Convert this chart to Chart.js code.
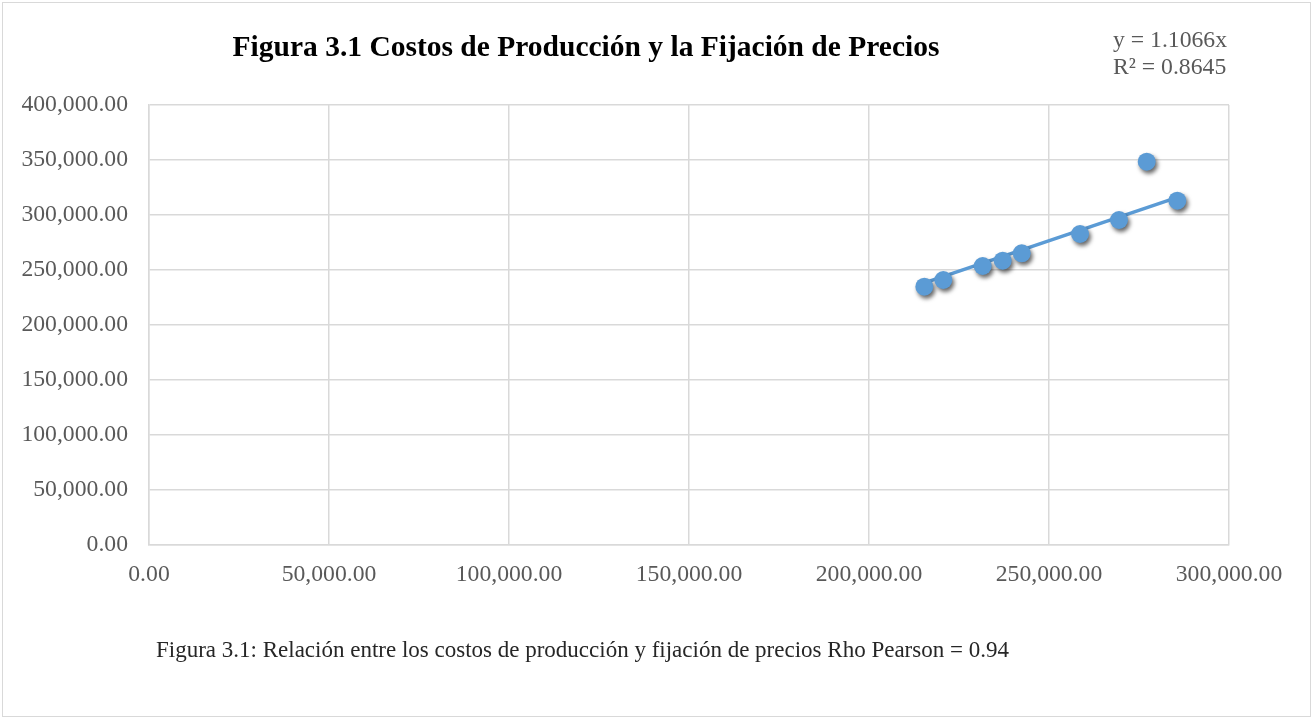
<!DOCTYPE html>
<html>
<head>
<meta charset="utf-8">
<script src="https://cdn.jsdelivr.net/npm/chart.js@4"></script>
<style>
html,body{margin:0;padding:0;background:#fff;}
#wrap{position:relative;width:1313px;height:719px;}
canvas{display:block;}
</style>
</head>
<body>
<div id="wrap"><canvas id="c" width="1313" height="719"></canvas></div>
<script>
// Data
const costosProduccion = [215370, 220640, 231580, 237140, 242420, 258610, 269440, 277140, 285640];
const fijacionPrecios  = [234800, 240900, 253640, 258450, 265180, 282730, 295450, 348450, 313000];
const trendSlope = 1.1066;
const trendR2 = 0.8645;
const trendXRange = [215370, 285640];
const xTicks = [0, 50000, 100000, 150000, 200000, 250000, 300000];
const yTicks = [0, 50000, 100000, 150000, 200000, 250000, 300000, 350000, 400000];
const titleText = 'Figura 3.1 Costos de Producción y la Fijación de Precios';
const captionText = 'Figura 3.1: Relación entre los costos de producción y fijación de precios Rho Pearson = 0.94';
const eqLines = ['y = ' + trendSlope.toFixed(4) + 'x', 'R² = ' + trendR2.toFixed(4)];

const points = costosProduccion.map((x, i) => ({x: x, y: fijacionPrecios[i]}));
const trendPoints = trendXRange.map(x => ({x: x, y: trendSlope * x}));

const fmt = v => Number(v).toLocaleString('en-US', {minimumFractionDigits: 2, maximumFractionDigits: 2});
const SERIF = '"Liberation Serif", "Times New Roman", serif';
const BLUE = '#5B9BD5';

const decorPlugin = {
  id: 'decor',
  beforeDraw(chart) {
    const ctx = chart.ctx;
    ctx.save();
    ctx.fillStyle = '#fff';
    ctx.fillRect(0, 0, chart.width, chart.height);
    ctx.strokeStyle = '#D9D9D9';
    ctx.lineWidth = 1;
    ctx.strokeRect(2.5, 2.5, chart.width - 5, chart.height - 5);
    ctx.restore();
  },
  afterDraw(chart) {
    const ctx = chart.ctx;
    ctx.save();
    ctx.textBaseline = 'middle';
    ctx.fillStyle = '#000';
    ctx.font = 'bold 29.5px ' + SERIF;
    ctx.textAlign = 'center';
    ctx.fillText(titleText, 586, 48);
    ctx.fillStyle = '#595959';
    ctx.font = '23.7px ' + SERIF;
    ctx.textAlign = 'left';
    ctx.fillText(eqLines[0], 1113, 41);
    ctx.fillText(eqLines[1], 1113, 68);
    ctx.fillStyle = '#262626';
    ctx.font = '23px ' + SERIF;
    ctx.fillText(captionText, 156, 651);
    ctx.restore();
  },
  beforeDatasetDraw(chart, args) {
    if (args.index === 0) {
      const ctx = chart.ctx;
      ctx.save();
      ctx.shadowColor = 'rgba(0,0,0,0.6)';
      ctx.shadowBlur = 4;
      ctx.shadowOffsetX = 2;
      ctx.shadowOffsetY = 3;
    }
  },
  afterDatasetDraw(chart, args) {
    if (args.index === 0) chart.ctx.restore();
  }
};

new Chart(document.getElementById('c'), {
  type: 'scatter',
  data: {
    datasets: [
      {
        label: 'Datos',
        data: points,
        backgroundColor: BLUE,
        borderColor: BLUE,
        pointRadius: 9,
        pointHoverRadius: 9,
        borderWidth: 0,
        order: 0
      },
      {
        label: 'Tendencia',
        type: 'line',
        data: trendPoints,
        borderColor: BLUE,
        borderWidth: 3.5,
        pointRadius: 0,
        fill: false,
        order: 1
      }
    ]
  },
  options: {
    responsive: false,
    animation: false,
    devicePixelRatio: 1,
    layout: {padding: {left: 0, top: 105, right: 84, bottom: 0}},
    plugins: {legend: {display: false}, tooltip: {enabled: false}, title: {display: false}},
    scales: {
      x: {
        type: 'linear',
        min: 0, max: 300000,
        afterFit(s) { s.height = 174; },
        afterBuildTicks(s) { s.ticks = xTicks.map(v => ({value: v})); },
        grid: {color: '#D9D9D9', lineWidth: 1.5, drawTicks: false},
        border: {color: '#D9D9D9', width: 1.5},
        ticks: {
          padding: 16,
          color: '#595959',
          font: {family: SERIF, size: 23.7},
          maxRotation: 0,
          autoSkip: false,
          callback: v => fmt(v)
        }
      },
      y: {
        type: 'linear',
        min: 0, max: 400000,
        afterFit(s) { s.width = 149; },
        afterBuildTicks(s) { s.ticks = yTicks.map(v => ({value: v})); },
        grid: {color: '#D9D9D9', lineWidth: 1.5, drawTicks: false},
        border: {color: '#D9D9D9', width: 1.5},
        ticks: {
          padding: 21,
          color: '#595959',
          font: {family: SERIF, size: 23.7},
          autoSkip: false,
          callback: v => fmt(v)
        }
      }
    }
  },
  plugins: [decorPlugin]
});
</script>
</body>
</html>
